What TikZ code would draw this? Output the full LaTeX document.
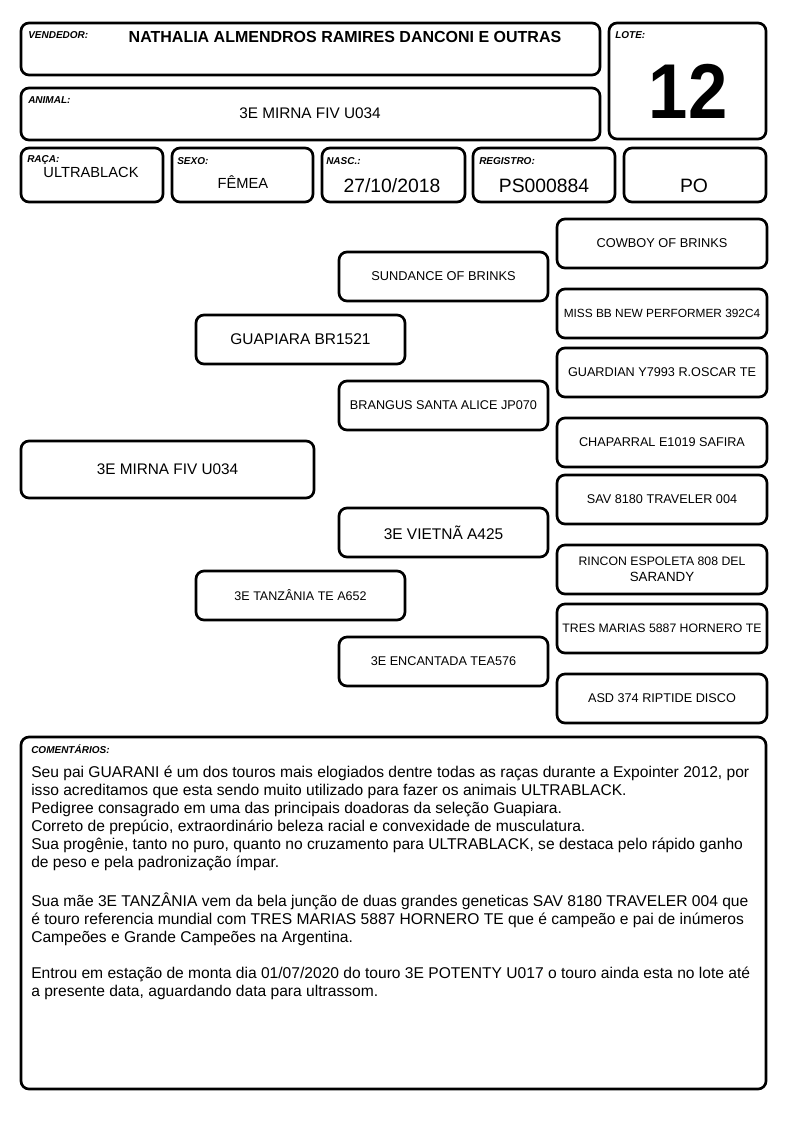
\documentclass[tikz,border=0pt]{standalone}
\usepackage{fontspec}
\setmainfont{Liberation Sans}
\newcommand\pbox[6]{\node[boxst, minimum width={(#4-#2)*0.75pt}, minimum height={(#5-#3)*0.75pt}] (#1) at ({(#2+#4)/2},{(#3+#5)/2}) {#6};}
\tikzset{
  boxst/.style={draw=black, line width=2pt, rounded corners=6pt, inner sep=0pt, align=center},
  lbl/.style={anchor=north west, inner sep=0pt, font=\fontsize{7.5}{9}\selectfont\bfseries\itshape},
  val/.style={anchor=base, inner sep=0pt},
  small/.style={font=\fontsize{9.5}{11}\selectfont},
  big/.style={font=\fontsize{11.6}{13}\selectfont},
}
\begin{document}
\begin{tikzpicture}[x=0.75pt, y=-0.75pt]
\useasboundingbox[fill=white] (0,0) rectangle (794,1123);
% header boxes
\pbox{vend}{21}{23}{600}{75}{}
\pbox{anim}{21}{88}{600}{140}{}
\pbox{lote}{609}{23}{766}{139}{}
\pbox{raca}{21}{148}{163}{202}{}
\pbox{sexo}{172}{148}{313}{202}{}
\pbox{nasc}{322}{148}{465}{202}{}
\pbox{reg}{473}{148}{615}{202}{}
\pbox{po}{624}{148}{766}{202}{}
% labels
\node[lbl] (lvend) at (28,31) {VENDEDOR:};
\node[lbl] (lanim) at (28,96) {ANIMAL:};
\node[lbl] (llote) at (615,31) {LOTE:};
\node[lbl] (lraca) at (27,155) {RAÇA:};
\node[lbl] (lsexo) at (177,157) {SEXO:};
\node[lbl] (lnasc) at (326,157) {NASC.:};
\node[lbl] (lreg) at (479,157) {REGISTRO:};
% values
\node[val, font=\fontsize{12}{14}\selectfont\bfseries] (vvend) at (345,43) {NATHALIA ALMENDROS RAMIRES DANCONI E OUTRAS};
\node[val, font=\fontsize{11.5}{14}\selectfont] (vanim) at (310,119) {3E MIRNA FIV U034};
\node[val, font=\fontsize{53}{60}\selectfont\bfseries] (vlote) at (688,119) {\scalebox{1}[1.1]{12}};
\node[val, font=\fontsize{11}{13}\selectfont] (vraca) at (91,178) {ULTRABLACK};
\node[val, font=\fontsize{11}{13}\selectfont] (vsexo) at (243,189) {FÊMEA};
\node[val, font=\fontsize{14.5}{16}\selectfont] (vnasc) at (392,193) {27/10/2018};
\node[val, font=\fontsize{14.5}{16}\selectfont] (vreg) at (544,193) {PS000884};
\node[val, font=\fontsize{14.5}{16}\selectfont] (vpo) at (694,193) {PO};
% pedigree
\pbox{p0}{21}{441}{314}{498}{\fontsize{11.5}{13}\selectfont 3E MIRNA FIV U034}
\pbox{p1}{196}{315}{405}{364}{\fontsize{11.6}{13}\selectfont GUAPIARA BR1521}
\pbox{p2}{196}{571}{405}{620}{\fontsize{9.4}{11}\selectfont 3E TANZÂNIA TE A652}
\pbox{p3}{339}{252}{548}{301}{\fontsize{9.6}{11}\selectfont SUNDANCE OF BRINKS}
\pbox{p4}{339}{381}{548}{430}{\fontsize{9.5}{11}\selectfont BRANGUS SANTA ALICE JP070}
\pbox{p5}{339}{508}{548}{557}{\fontsize{11.6}{13}\selectfont 3E VIETNÃ A425}
\pbox{p6}{339}{637}{548}{686}{\fontsize{9.5}{11}\selectfont 3E ENCANTADA TEA576}
\pbox{p7}{557}{219}{767}{268}{\fontsize{9.6}{11}\selectfont COWBOY OF BRINKS}
\pbox{p8}{557}{289}{767}{338}{\fontsize{8.9}{11}\selectfont MISS BB NEW PERFORMER 392C4}
\pbox{p9}{557}{348}{767}{397}{\fontsize{9.5}{11}\selectfont GUARDIAN Y7993 R.OSCAR TE}
\pbox{p10}{557}{418}{767}{467}{\fontsize{9.5}{11}\selectfont CHAPARRAL E1019 SAFIRA}
\pbox{p11}{557}{475}{767}{524}{\fontsize{9.5}{11}\selectfont SAV 8180 TRAVELER 004}
\pbox{p12}{557}{545}{767}{594}{\fontsize{9.2}{11.2}\selectfont RINCON ESPOLETA 808 DEL\\SARANDY}
\pbox{p13}{557}{604}{767}{653}{\fontsize{9.2}{11}\selectfont TRES MARIAS 5887 HORNERO TE}
\pbox{p14}{557}{674}{767}{723}{\fontsize{9.5}{11}\selectfont ASD 374 RIPTIDE DISCO}
% comments
\pbox{com}{21}{737}{766}{1089}{}
\node[lbl] (lcom) at (31,744) {COMENTÁRIOS:};
\node[anchor=north west, inner sep=0pt, align=left, font=\fontsize{11.7}{13.5}\selectfont] (tcom) at (31,766) {%
Seu pai GUARANI é um dos touros mais elogiados dentre todas as raças durante a Expointer 2012, por\\
isso acreditamos que esta sendo muito utilizado para fazer os animais ULTRABLACK.\\
Pedigree consagrado em uma das principais doadoras da seleção Guapiara.\\
Correto de prepúcio, extraordinário beleza racial e convexidade de musculatura.\\
Sua progênie, tanto no puro, quanto no cruzamento para ULTRABLACK, se destaca pelo rápido ganho\\
de peso e pela padronização ímpar.\\
\strut\\
Sua mãe 3E TANZÂNIA vem da bela junção de duas grandes geneticas SAV 8180 TRAVELER 004 que\\
é touro referencia mundial com TRES MARIAS 5887 HORNERO TE que é campeão e pai de inúmeros\\
Campeões e Grande Campeões na Argentina.\\
\strut\\
Entrou em estação de monta dia 01/07/2020 do touro 3E POTENTY U017 o touro ainda esta no lote até\\
a presente data, aguardando data para ultrassom.};
\end{tikzpicture}
\end{document}
